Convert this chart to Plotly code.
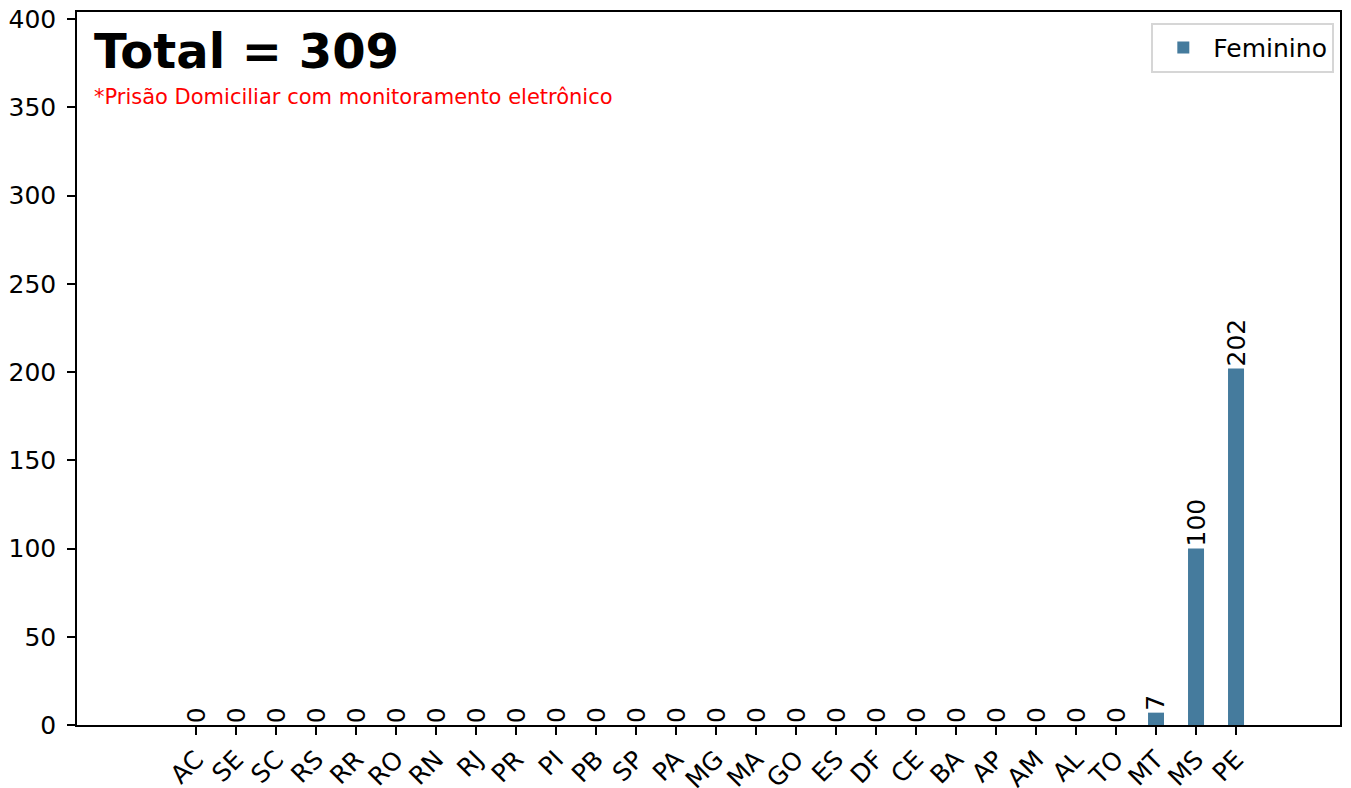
import plotly.graph_objects as go

estados = ["AC", "SE", "SC", "RS", "RR", "RO", "RN", "RJ", "PR", "PI", "PB", "SP", "PA", "MG",
           "MA", "GO", "ES", "DF", "CE", "BA", "AP", "AM", "AL", "TO", "MT", "MS", "PE"]
feminino = [0, 0, 0, 0, 0, 0, 0, 0, 0, 0, 0, 0, 0, 0,
            0, 0, 0, 0, 0, 0, 0, 0, 0, 0, 7, 100, 202]
y_ticks = [0, 50, 100, 150, 200, 250, 300, 350, 400]
total_label = "Total = " + str(sum(feminino))
nota = "*Prisão Domiciliar com monitoramento eletrônico"

COR = "#457b9d"
FONT = "DejaVu Sans"
FS = 25

fig = go.Figure()
fig.add_trace(go.Bar(x=list(range(len(estados))), y=feminino, name="Feminino",
                     marker=dict(color=COR, line=dict(width=0)), width=0.4,
                     showlegend=True))

for i, v in enumerate(feminino):
    fig.add_annotation(x=i, y=v, xref="x", yref="y", text=str(v), textangle=-90,
                       showarrow=False, xanchor="center", yanchor="bottom", yshift=0,
                       font=dict(family=FONT, size=FS, color="black"))

fig.add_annotation(x=0.012, y=0.987, xref="paper", yref="paper", text="<b>" + total_label + "</b>",
                   showarrow=False, xanchor="left", yanchor="top",
                   font=dict(family=FONT, size=48, color="black"))
fig.add_annotation(x=0.012, y=0.9, xref="paper", yref="paper", text=nota,
                   showarrow=False, xanchor="left", yanchor="top",
                   font=dict(family=FONT, size=21, color="red"))

fig.update_layout(
    width=1343, height=780,
    margin=dict(l=69, r=11, t=4, b=63, autoexpand=False),
    paper_bgcolor="white", plot_bgcolor="white",
    font=dict(family=FONT, size=FS, color="black"),
    legend=dict(x=0.9955, y=0.985, xanchor="right", yanchor="top",
                bordercolor="#d6d6d6", borderwidth=2, bgcolor="white",
                itemwidth=50,
                font=dict(family=FONT, size=FS, color="black")),
    bargap=0.6,
)
fig.update_xaxes(range=[-2.98, 28.6], tickmode="array",
                 tickvals=list(range(len(estados))), ticktext=estados,
                 tickangle=-45, ticks="outside", ticklen=8, tickwidth=1.5, tickcolor="black",
                 ticklabeloverflow="allow",
                 showline=True, linecolor="black", linewidth=1.5, mirror=True,
                 showgrid=False, zeroline=False, tickfont=dict(size=FS))
fig.update_yaxes(range=[0, 404], tickmode="array", tickvals=y_ticks,
                 ticks="outside", ticklen=8, tickwidth=1.5, tickcolor="black",
                 ticklabelstandoff=6, ticklabeloverflow="allow",
                 showline=True, linecolor="black", linewidth=1.5, mirror=True,
                 showgrid=False, zeroline=False, tickfont=dict(size=FS))

fig.write_html("out.html")
